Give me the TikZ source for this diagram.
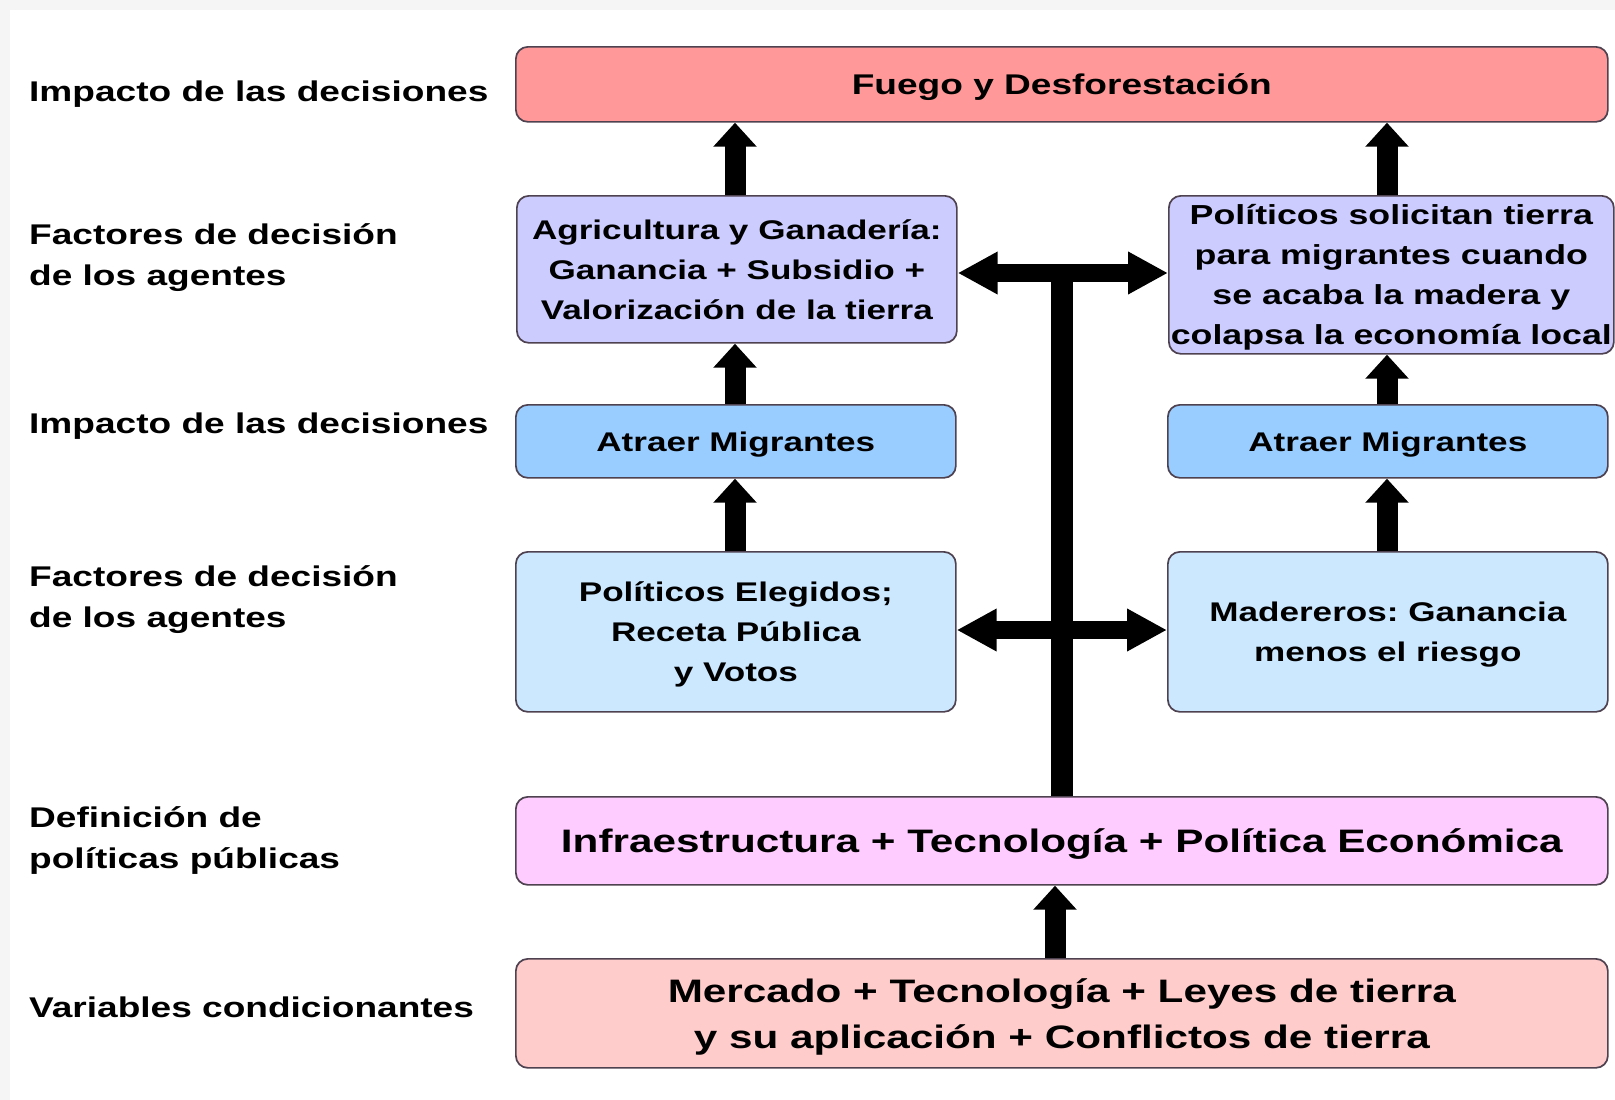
\documentclass[tikz,border=0pt]{standalone}
\usepackage{fontspec}
\setmainfont{Liberation Sans}[FakeStretch=1.3]
\usetikzlibrary{arrows.meta}
\definecolor{cFuego}{HTML}{FF9999}
\definecolor{cAgri}{HTML}{CCCCFF}
\definecolor{cAtr}{HTML}{99CCFF}
\definecolor{cPolE}{HTML}{CCE8FF}
\definecolor{cInfra}{HTML}{FFCCFF}
\definecolor{cMerc}{HTML}{FFCCCC}
\definecolor{bordc}{HTML}{4F4250}
\definecolor{edgec}{HTML}{F5F5F5}
\frenchspacing
\begin{document}
\begin{tikzpicture}[x=1pt,y=-1pt,
  box/.style={draw=bordc, line width=1.7pt, rounded corners=12pt, anchor=north west,
    inner sep=0pt, align=center, text depth=0pt, font=\bfseries\fontsize{27}{40}\selectfont},
  bigbox/.style={box, font=\bfseries\fontsize{32.5}{46}\selectfont},
  lab/.style={anchor=base west, inner sep=0pt, align=left, font=\bfseries\fontsize{28.5}{41}\selectfont},
  uparrow/.style={line width=21pt, -{Triangle[length=24pt,width=42pt]}},
  dblarrow/.style={line width=18pt, {Triangle[length=40pt,width=40pt]}-{Triangle[length=40pt,width=40pt]}},
  stem/.style={line width=22pt}
]
\useasboundingbox (0,0) rectangle (1615,1100);
\fill[white] (0,0) rectangle (1615,1100);
\fill[edgec] (0,0) rectangle (1615,10);
\fill[edgec] (0,0) rectangle (10,1100);

% left labels (base anchor = last line baseline)
\node[lab] (l1) at (29,101) {Impacto de las decisiones};
\node[lab] (l2) at (29,285) {Factores de decisión\\de los agentes};
\node[lab] (l3) at (29,433) {Impacto de las decisiones};
\node[lab] (l4) at (29,627) {Factores de decisión\\de los agentes};
\node[lab] (l5) at (29,868) {Definición de\\políticas públicas};
\node[lab] (l6) at (29,1017) {Variables condicionantes};

% boxes
\node[box, fill=cFuego, minimum width=1092pt, minimum height=75pt, font=\bfseries\fontsize{28.5}{40}\selectfont] (fuego) at (515,46) {Fuego y Desforestación};
\node[box, fill=cAgri, minimum width=440pt, minimum height=147pt] (agri) at (516,195) {Agricultura y Ganadería:\\Ganancia + Subsidio +\\Valorización de la tierra};
\node[box, fill=cAgri, minimum width=445pt, minimum height=158pt, font=\bfseries\fontsize{27.5}{40}\selectfont] (polsol) at (1168,195) {Políticos solicitan tierra\\para migrantes cuando\\se acaba la madera y\\colapsa la economía local};
\node[box, fill=cAtr, minimum width=440pt, minimum height=73pt] (atrL) at (515,404) {Atraer Migrantes};
\node[box, fill=cAtr, minimum width=440pt, minimum height=73pt] (atrR) at (1167,404) {Atraer Migrantes};
\node[box, fill=cPolE, minimum width=440pt, minimum height=160pt] (polE) at (515,551) {Políticos Elegidos;\\Receta Pública\\y Votos};
\node[box, fill=cPolE, minimum width=440pt, minimum height=160pt] (mad) at (1167,551) {Madereros: Ganancia\\menos el riesgo};
\node[bigbox, fill=cInfra, minimum width=1092pt, minimum height=88pt] (infra) at (515,796) {Infraestructura + Tecnología + Política Económica};
\node[bigbox, fill=cMerc, minimum width=1092pt, minimum height=109pt] (merc) at (515,958) {Mercado + Tecnología + Leyes de tierra\\y su aplicación + Conflictos de tierra};

% column coordinates
\coordinate (cl) at (735,0);
\coordinate (cr) at (1387,0);
\coordinate (tj) at (1062,273);
\coordinate (tj2) at (1062,630);
\coordinate (ba) at (1055,0);

% vertical arrows left
\draw[uparrow] (agri.north -| cl) -- (fuego.south -| cl);
\draw[uparrow] (atrL.north -| cl) -- (agri.south -| cl);
\draw[uparrow] (polE.north -| cl) -- (atrL.south -| cl);
% vertical arrows right
\draw[uparrow] (polsol.north -| cr) -- (fuego.south -| cr);
\draw[uparrow] (atrR.north -| cr) -- (polsol.south -| cr);
\draw[uparrow] (mad.north -| cr) -- (atrR.south -| cr);

% T connector
\draw[stem] (infra.north -| tj) -- (tj);
\draw[dblarrow] (agri.east |- tj) -- (polsol.west |- tj);
\draw[dblarrow] (polE.east |- tj2) -- (mad.west |- tj2);

% bottom arrow
\draw[uparrow] (merc.north -| ba) -- (infra.south -| ba);
\end{tikzpicture}
\end{document}
